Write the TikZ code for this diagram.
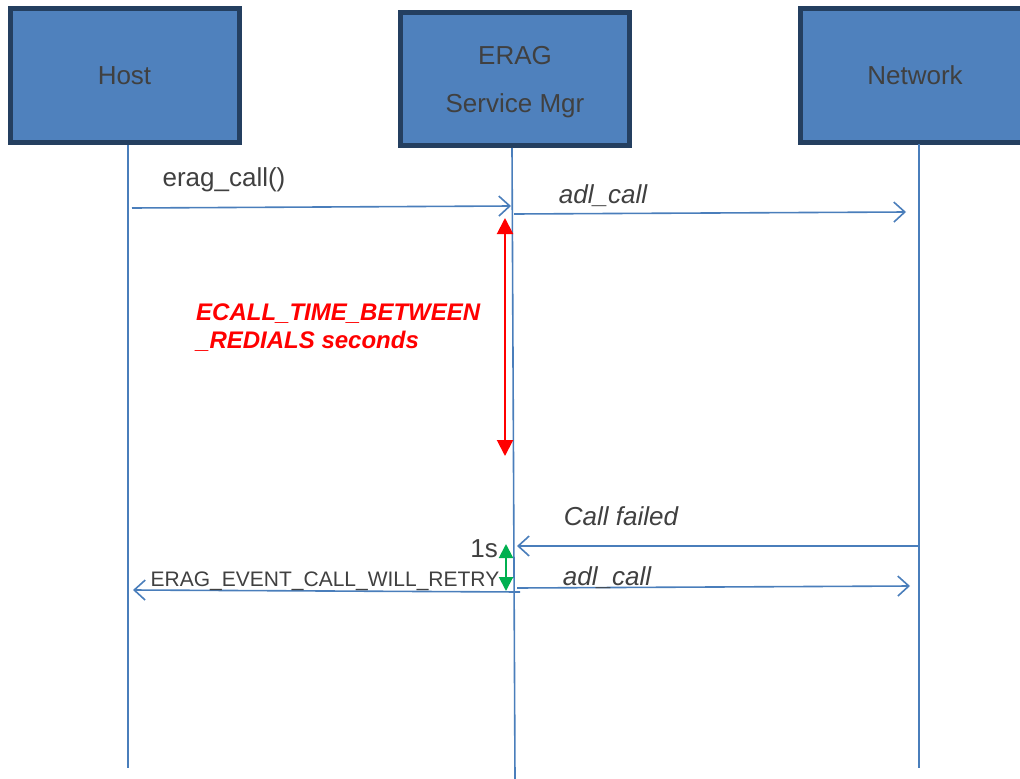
\documentclass[tikz,border=0pt]{standalone}
\usepackage{fontspec}
\setmainfont{Liberation Sans}
\usetikzlibrary{arrows.meta}
\definecolor{boxfill}{HTML}{4F81BD}
\definecolor{boxline}{HTML}{243F60}
\definecolor{lifeblue}{HTML}{4A7EBB}
\definecolor{txt}{HTML}{404040}
\definecolor{grn}{HTML}{00B050}
\tikzset{
  actor/.style={draw=boxline, line width=5pt, fill=boxfill, minimum width=229pt, minimum height=134pt, text=txt, font=\fontsize{26}{48}\selectfont, align=center, inner sep=0pt},
  lifeline/.style={draw=lifeblue, line width=1.6pt},
  msg/.style={draw=lifeblue, line width=1.6pt, -{Straight Barb[length=11pt,width=20pt,line width=1.6pt]}},
  msglabel/.style={text=txt, font=\fontsize{26}{30}\selectfont, inner sep=0pt},
  redarrow/.style={draw=red, line width=2pt, {Triangle[length=16pt,width=16pt]}-{Triangle[length=16pt,width=16pt]}},
  greenarrow/.style={draw=grn, line width=2pt, {Triangle[length=14pt,width=14pt]}-{Triangle[length=14pt,width=14pt]}},
}
\begin{document}
\begin{tikzpicture}[x=1pt,y=-1pt]
\useasboundingbox (0,0) rectangle (1020,779);
\clip (0,0) rectangle (1020,779);
% actors
\node[actor] (host) at (124.5,75.5) {Host};
\node[actor, minimum height=133pt] (erag) at (515,79) {};
\node[msglabel] (eragtxt) at (515,82) [align=center, font=\fontsize{26}{48}\selectfont] {ERAG\\Service Mgr};
\node[actor] (net) at (915,75) {Network};
% lifelines
\coordinate (hostEnd) at (128,768);
\coordinate (eragEnd) at (515,779);
\coordinate (netEnd) at (919,768);
\draw[lifeline] (128,145) -- (hostEnd);
\draw[lifeline] (512,148) -- (eragEnd);
\draw[lifeline] (919,144) -- (netEnd);
% message points
\coordinate (m1s) at (132,208);
\coordinate (m1e) at (511,206);
\coordinate (m2s) at (514,214);
\coordinate (m2e) at (906,212);
\coordinate (m3s) at (919,546);
\coordinate (m3e) at (517,546);
\coordinate (m4s) at (517,588);
\coordinate (m4e) at (910,586);
\coordinate (m5s) at (520,592);
\coordinate (m5e) at (133,590);
\draw[msg] (m1s) -- (m1e);
\draw[msg] (m2s) -- (m2e);
\draw[msg] (m3s) -- (m3e);
\draw[msg] (m4s) -- (m4e);
\draw[msg] (m5s) -- (m5e);
% labels
\node[msglabel] (l1) at (224,180) {erag\_call()};
\node[msglabel, font=\fontsize{26}{30}\selectfont\itshape] (l2) at (603,196) {adl\_call};
\node[msglabel, font=\fontsize{26}{30}\selectfont\itshape] (l3) at (621,516) {Call failed};
\node[msglabel, font=\fontsize{26}{30}\selectfont\itshape] (l4) at (607,578) {adl\_call};
\node[msglabel, font=\fontsize{21}{24}\selectfont] (l5) at (325,581) {ERAG\_EVENT\_CALL\_WILL\_RETRY};
\node[msglabel, anchor=east] (l6) at (498,549) {1s};
% timing arrows
\coordinate (r1) at (505,218);
\coordinate (r2) at (505,456);
\draw[redarrow] (r1) -- (r2);
\coordinate (g1) at (506,544);
\coordinate (g2) at (506,591);
\draw[greenarrow] (g1) -- (g2);
\node[text=red, font=\fontsize{24}{28}\selectfont\bfseries\itshape, align=left, anchor=north west, inner sep=0pt] (rt) at (196,304) {ECALL\_TIME\_BETWEEN\\\_REDIALS seconds};
\end{tikzpicture}
\end{document}
